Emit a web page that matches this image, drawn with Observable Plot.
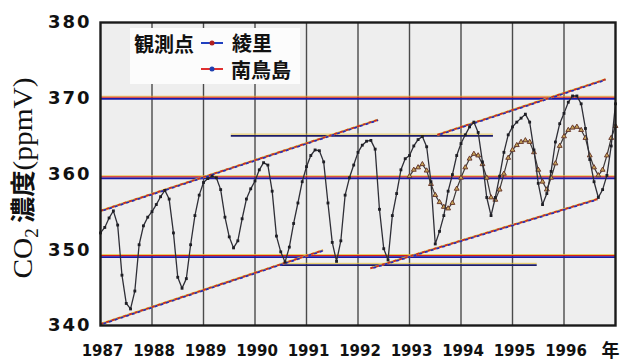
<!DOCTYPE html>
<html>
<head>
<meta charset="utf-8">
<script src="https://cdn.jsdelivr.net/npm/d3@7"></script>
<script src="https://cdn.jsdelivr.net/npm/@observablehq/plot@0.6"></script>
<style>
  html, body { margin: 0; padding: 0; background: #ffffff; }
  #wrap { position: relative; width: 621px; height: 361px; overflow: hidden; }
  #legend { position: absolute; left: 130px; top: 28px; width: 170px; height: 56px; background: #fcfcfc;
            font-family: "Noto Sans CJK JP", sans-serif; font-weight: 700; font-size: 20px; color: #111; }
  #legend span { position: absolute; line-height: 1; white-space: nowrap; }
  g[aria-label="y-axis tick label"] text { letter-spacing: 2px; }
</style>
</head>
<body>
<div id="wrap"></div>
<script>
// ---- data (ppmV), monthly ----
const ryori1987 = [353.0, 353.7, 354.9, 355.8, 354.0, 347.3, 343.2, 342.4, 345.0, 351.5, 353.9, 355.0];
const ryori1988 = [355.7, 356.6, 357.6, 358.4, 357.3, 353.0, 347.0, 345.4, 346.8, 351.5, 355.2, 357.8];
const ryori1989 = [359.4, 359.9, 360.2, 360.0, 358.5, 355.0, 352.5, 351.1, 352.0, 354.8, 357.3, 358.6];
const ryori1990 = [359.6, 361.0, 361.9, 361.6, 358.3, 352.6, 350.6, 349.2, 351.2, 354.2, 356.8, 359.5];
const ryori1991 = [361.4, 362.8, 363.5, 363.4, 362.0, 356.8, 351.8, 349.3, 352.0, 357.8, 360.0, 361.6];
const ryori1992 = [363.2, 364.1, 364.6, 364.7, 363.6, 356.0, 351.0, 349.5, 355.2, 358.0, 361.0, 362.4];
const ryori1993 = [362.8, 364.0, 364.8, 365.2, 363.9, 359.5, 351.6, 353.2, 355.2, 358.3, 360.4, 362.8];
const ryori1994 = [364.3, 365.4, 366.4, 367.0, 365.7, 362.0, 357.5, 355.2, 357.5, 360.2, 363.2, 365.4];
const ryori1995 = [366.4, 367.0, 367.5, 368.0, 367.0, 363.5, 359.3, 356.6, 358.0, 360.8, 364.5, 366.8];
const ryori1996 = [368.1, 369.5, 370.3, 370.3, 369.3, 366.2, 362.3, 359.5, 357.5, 358.5, 360.3, 364.0];
const ryoriJan1997 = 369.3;

const mnm1993 = [360.2, 361.0, 361.3, 361.7, 360.9, 359.2, 357.8, 356.9, 356.3, 356.1, 356.8, 358.6];
const mnm1994 = [360.0, 361.3, 362.4, 363.0, 362.8, 361.7, 360.0, 357.5, 357.2, 358.5, 360.5, 362.5];
const mnm1995 = [363.5, 364.1, 364.5, 364.7, 364.5, 363.2, 361.0, 359.5, 358.5, 360.0, 361.8, 364.0];
const mnm1996 = [365.2, 366.0, 366.3, 366.4, 366.0, 365.0, 362.8, 361.3, 360.3, 361.0, 362.8, 365.0];
const mnmJan1997 = 366.5;

const yearTicks = [1987, 1988, 1989, 1990, 1991, 1992, 1993, 1994, 1995, 1996];
const gridYears = [1988, 1989, 1990, 1991, 1992, 1993, 1994, 1995, 1996];
const yTicks = [340, 350, 360, 370, 380];
const gridValues = [350, 360, 370];
// the printed axis is not evenly spaced (340–350 band is narrower): positions of the ticks along the axis, in axis units
const yTickSpacing = [340, 349.1, 359.5, 370.0, 380];

// hand-drawn guide lines on the original figure
const slantX1 = [1987.0, 1993.54, 1987.0, 1992.24];
const slantY1 = [355.8, 365.4, 340.2, 348.3];
const slantX2 = [1992.39, 1996.81, 1991.32, 1996.65];
const slantY2 = [367.3, 372.5, 350.8, 357.3];
const levelX1 = [1989.54, 1990.49];
const levelX2 = [1994.63, 1995.48];
const levelY = [365.3, 348.8];

const seriesNames = ["綾里", "南鳥島"];
const legendTitle = "観測点";
const yearUnit = "年";

// ---- build tables ----
function monthly(yearArrays, startYear, janNext) {
  const rows = [];
  yearArrays.forEach((arr, i) => arr.forEach((v, m) => rows.push({t: startYear + i + m / 12, v})));
  rows.push({t: startYear + yearArrays.length, v: janNext});
  return rows;
}
const ryori = monthly([ryori1987, ryori1988, ryori1989, ryori1990, ryori1991, ryori1992, ryori1993, ryori1994, ryori1995, ryori1996], 1987, ryoriJan1997);
const mnm = monthly([mnm1993, mnm1994, mnm1995, mnm1996], 1993, mnmJan1997);
const slants = slantX1.map((x1, i) => ({x1, y1: slantY1[i], x2: slantX2[i], y2: slantY2[i]}));
const levels = levelX1.map((x1, i) => ({x1, x2: levelX2[i], y: levelY[i]}));
const axisWarp = d3.scaleLinear().domain(yTicks).range(yTickSpacing);

const chart = Plot.plot({
  width: 621,
  height: 361,
  marginLeft: 100,
  marginRight: 6,
  marginTop: 22,
  marginBottom: 36,
  style: {background: "#ffffff", color: "#111"},
  x: {domain: [1987, 1997]},
  y: {domain: [340, 380], transform: axisWarp},
  marks: [
    Plot.frame({fill: "#eeeeee", stroke: "none"}),
    Plot.ruleX(gridYears, {stroke: "#4a4a4a", strokeWidth: 1.4}),
    // colored horizontal grid lines (scan fringe look)
    Plot.ruleY(gridValues, {stroke: "#e8c030", strokeWidth: 0.8, dy: -2}),
    Plot.ruleY(gridValues, {stroke: "#d41e1e", strokeWidth: 1.2, dy: -1}),
    Plot.ruleY(gridValues, {stroke: "#1a1aa8", strokeWidth: 1.6, dy: 0.6}),
    // short level lines
    Plot.ruleY(levels, {x1: "x1", x2: "x2", y: "y", stroke: "#e8c030", strokeWidth: 0.8, dy: -1.5}),
    Plot.ruleY(levels, {x1: "x1", x2: "x2", y: "y", stroke: "#1c1c6a", strokeWidth: 1.7, dy: 0.3}),
    // slanted envelope lines
    Plot.link(slants, {x1: "x1", y1: "y1", x2: "x2", y2: "y2", stroke: "#e8c030", strokeWidth: 2.2}),
    Plot.link(slants, {x1: "x1", y1: "y1", x2: "x2", y2: "y2", stroke: "#c82a2a", strokeWidth: 1.8, strokeDasharray: "3,3"}),
    Plot.link(slants, {x1: "x1", y1: "y1", x2: "x2", y2: "y2", stroke: "#2a2ab8", strokeWidth: 1.8, strokeDasharray: "3,3", strokeDashoffset: 3, dy: 0.5}),
    // data
    Plot.line(mnm, {x: "t", y: "v", stroke: "#3c3838", strokeWidth: 1.2}),
    Plot.dot(mnm, {x: "t", y: "v", symbol: "triangle", r: 1.8, stroke: "#6a3a2e", strokeWidth: 1, fill: "#c8a858"}),
    Plot.line(ryori, {x: "t", y: "v", stroke: "#2e2e36", strokeWidth: 1.3}),
    Plot.dot(ryori, {x: "t", y: "v", symbol: "square", r: 1.6, fill: "#1e1e24"}),
    Plot.axisY({ticks: yTicks, tickSize: 0, tickPadding: 9, fontSize: 18, fontWeight: "bold", fontFamily: "DejaVu Sans", label: null}),
    Plot.axisX({ticks: yearTicks, tickSize: 0, tickPadding: 20, tickFormat: d => String(d), fontSize: 15, fontWeight: "bold", fontFamily: "DejaVu Sans", dx: 2, label: null}),
    Plot.text([yearUnit], {frameAnchor: "bottom-right", textAnchor: "end", lineAnchor: "middle", dx: 4, dy: 26, fontSize: 18, fontWeight: "bold", fontFamily: "Noto Sans CJK JP", fill: "#111"}),
    Plot.frame({stroke: "#1a1a1a", strokeWidth: 2.4})
  ]
});

// rotated y-axis title with mixed fonts
const svg = d3.select(chart);
const title = svg.append("text")
  .attr("transform", "translate(32,178) rotate(-90)")
  .attr("text-anchor", "middle")
  .attr("fill", "#111")
  .attr("textLength", 201)
  .attr("lengthAdjust", "spacingAndGlyphs");
title.append("tspan").attr("font-family", "Liberation Serif").attr("font-size", 28).text("CO");
title.append("tspan").attr("font-family", "Liberation Serif").attr("font-size", 18).attr("dy", 6).text("2");
title.append("tspan").attr("font-family", "Noto Sans CJK JP").attr("font-weight", 700).attr("font-size", 25).attr("dy", -6).attr("dx", 5).text("濃度");
title.append("tspan").attr("font-family", "Liberation Serif").attr("font-size", 28).text("(ppmV)");

const wrap = document.getElementById("wrap");
wrap.appendChild(chart);

// legend box inside the plot
const legend = document.createElement("div");
legend.id = "legend";
legend.innerHTML = `
  <span style="left:4px;top:6px">${legendTitle}</span>
  <svg width="26" height="56" style="position:absolute;left:69px;top:0">
    <line x1="2" x2="24" y1="15" y2="15" stroke="#2040c0" stroke-width="2"/>
    <circle cx="13" cy="15" r="2.5" fill="#b02020"/>
    <line x1="2" x2="24" y1="41" y2="41" stroke="#e03030" stroke-width="2"/>
    <circle cx="13" cy="41" r="2.5" fill="#2040b0"/>
  </svg>
  <span style="left:102px;top:5px">${seriesNames[0]}</span>
  <span style="left:101px;top:32px">${seriesNames[1]}</span>`;
wrap.appendChild(legend);
</script>
</body>
</html>
